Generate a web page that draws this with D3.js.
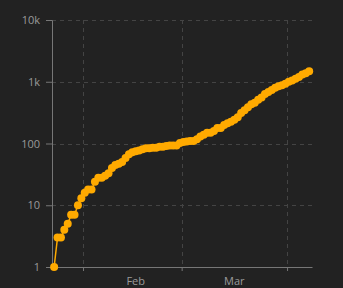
<!DOCTYPE html>
<html>
<head>
<meta charset="utf-8">
<script src="https://cdn.jsdelivr.net/npm/d3@7"></script>
<style>
  html, body { margin: 0; padding: 0; background: #222222; }
  svg { display: block; }
  text { font-family: "Open Sans", sans-serif; font-size: 11px; fill: #9a9a9a; }
</style>
</head>
<body>
<svg id="chart" width="343" height="288"></svg>
<script>
// Data: daily cumulative counts starting at this date (one value per day)
const startDate = "2020-01-23T12:00:00Z";
const values = [1, 3, 3, 4, 5, 7, 7, 10, 13,
  16, 18, 18, 24, 28, 28, 30, 33, 40, 45, 47, 50, 58, 67, 72, 75, 77, 81, 84, 84, 85, 85, 89, 89, 91, 93, 93, 93, 102,
  106, 108, 110, 110, 117, 130, 138, 150, 150, 160, 178, 178, 200, 212, 226, 243, 266, 313, 345, 385, 432, 455, 509, 558, 631, 683, 732, 802, 844, 879, 926,
  1000, 1049, 1114, 1189, 1309, 1375, 1481];
const yTickValues = [1, 10, 100, 1000, 10000];
const yTickLabels = ["1", "10", "100", "1k", "10k"];
const monthTicks = ["2020-02-01", "2020-03-01", "2020-04-01"];
const monthLabels = ["Feb", "Mar"];
const monthLabelDates = ["2020-02-16T12:00:00Z", "2020-03-16T12:00:00Z"];
const xDomain = ["2020-01-22T21:00:00Z", "2020-04-08T08:00:00Z"];

const data = values.map((v, i) => ({ date: d3.utcDay.offset(new Date(startDate), i), value: v }));

const svg = d3.select("#chart");
const mLeft = 52, mRight = 312, mTop = 20, mBottom = 267;
const color = "#ffaa00";

const x = d3.scaleUtc().domain(xDomain.map(d => new Date(d))).range([mLeft, mRight]);
const y = d3.scaleLog().domain([1, 10000]).range([mBottom, mTop]);

// Horizontal grid
svg.append("g").selectAll("line").data(yTickValues.slice(1)).join("line")
  .attr("x1", mLeft).attr("x2", mRight)
  .attr("y1", d => Math.round(y(d)) + 0.5).attr("y2", d => Math.round(y(d)) + 0.5)
  .attr("stroke", "#444").attr("stroke-width", 1).attr("stroke-dasharray", "4,4");

// Vertical grid
svg.append("g").selectAll("line").data(monthTicks.map(d => new Date(d))).join("line")
  .attr("x1", d => Math.round(x(d)) + 0.5).attr("x2", d => Math.round(x(d)) + 0.5)
  .attr("y1", mTop).attr("y2", mBottom)
  .attr("stroke", "#444").attr("stroke-width", 1).attr("stroke-dasharray", "4,4");

// Y axis
const yAxis = d3.axisLeft(y).tickValues(yTickValues)
  .tickFormat((d, i) => yTickLabels[i]).tickSize(6).tickPadding(6);
const gy = svg.append("g").attr("transform", `translate(${mLeft},0)`).call(yAxis);
gy.attr("font-family", null).attr("font-size", null);
gy.select(".domain").attr("stroke", "#777");
gy.selectAll(".tick line").attr("stroke", "#777");
gy.selectAll("text").attr("fill", "#9a9a9a");

// X axis (ticks at month boundaries, labels mid-month)
const xAxis = d3.axisBottom(x).tickValues(monthTicks.map(d => new Date(d)))
  .tickFormat("").tickSize(4).tickSizeOuter(0);
const gx = svg.append("g").attr("transform", `translate(0,${mBottom})`).call(xAxis);
gx.select(".domain").attr("stroke", "#777");
gx.selectAll(".tick line").attr("stroke", "#777");
svg.append("g").selectAll("text").data(monthLabels).join("text")
  .attr("x", (d, i) => x(new Date(monthLabelDates[i])))
  .attr("y", mBottom + 18)
  .attr("text-anchor", "middle")
  .text(d => d);

// Line
svg.append("path").datum(data)
  .attr("fill", "none").attr("stroke", color).attr("stroke-width", 1.5)
  .attr("d", d3.line().x(d => x(d.date)).y(d => y(d.value)));

// Points
svg.append("g").selectAll("circle").data(data).join("circle")
  .attr("cx", d => x(d.date)).attr("cy", d => y(d.value)).attr("r", 4)
  .attr("fill", color);
</script>
</body>
</html>
